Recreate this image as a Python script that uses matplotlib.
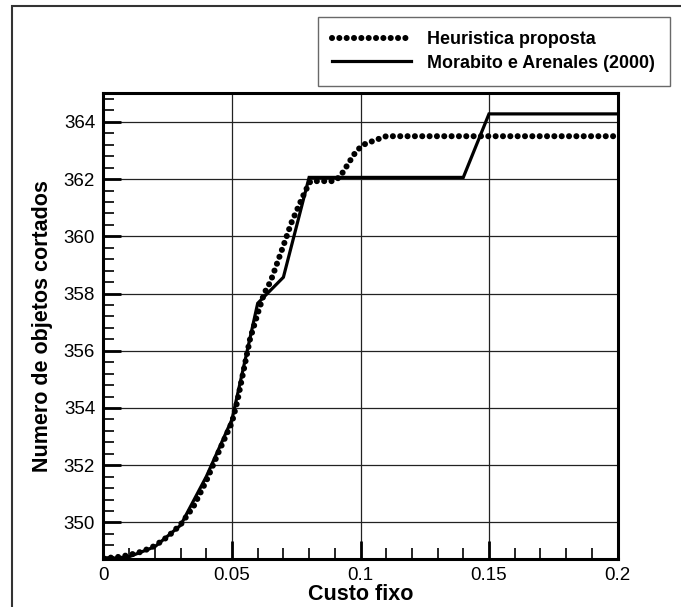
import matplotlib
matplotlib.use("Agg")
import matplotlib.pyplot as plt
from matplotlib.ticker import MultipleLocator
from matplotlib.patches import Rectangle

plt.rcParams['font.family'] = ['Liberation Sans', 'DejaVu Sans']

# Heuristica proposta (dotted curve)
heur_x = [0.0, 0.005, 0.01, 0.015, 0.02, 0.025, 0.03, 0.035, 0.04, 0.045, 0.05,
          0.052, 0.0545, 0.057, 0.06, 0.0625, 0.065, 0.068, 0.0705, 0.073, 0.0758,
          0.0784, 0.0805, 0.0815, 0.0895, 0.092, 0.0944, 0.0962, 0.098, 0.100,
          0.102, 0.1045, 0.1075, 0.110, 0.2]
heur_y = [348.75, 348.78, 348.86, 348.98, 349.18, 349.5, 349.92, 350.55, 351.45, 352.5, 353.5,
          354.2, 355.3, 356.4, 357.3, 358.0, 358.42, 359.17, 359.8, 360.45, 361.03,
          361.56, 361.92, 361.93, 361.93, 362.08, 362.42, 362.68, 362.93, 363.12,
          363.24, 363.32, 363.42, 363.5, 363.5]

# Morabito e Arenales (2000) (solid line)
mor_x = [0.0, 0.01, 0.02, 0.03, 0.04, 0.05, 0.06, 0.07, 0.08, 0.14, 0.15, 0.2]
mor_y = [348.72, 348.8, 349.15, 349.9, 351.6, 353.6, 357.66, 358.57, 362.06, 362.06, 364.28, 364.28]

xticks = [0, 0.05, 0.1, 0.15, 0.2]
xticklabels = ['0', '0.05', '0.1', '0.15', '0.2']
yticks = [350, 352, 354, 356, 358, 360, 362, 364]

W, H = 681, 607
fig = plt.figure(figsize=(W / 100, H / 100), dpi=100)
ax = fig.add_axes([103.5 / W, 1 - 559 / H, (617.5 - 103.5) / W, (559 - 93.3) / H])

ax.plot(heur_x, heur_y, color='black', linewidth=4.4,
        linestyle=(0, (0.001, 1.2)), dash_capstyle='round',
        label='Heuristica proposta', zorder=3)
ax.plot(mor_x, mor_y, color='black', linewidth=2.3, solid_joinstyle='miter',
        label='Morabito e Arenales (2000)', zorder=4)

ax.set_xlim(0, 0.2)
ax.set_ylim(348.72, 365.0)
ax.set_xticks(xticks)
ax.set_xticklabels(xticklabels)
ax.set_yticks(yticks)
ax.xaxis.set_minor_locator(MultipleLocator(0.01))
ax.yaxis.set_minor_locator(MultipleLocator(0.4))
ax.tick_params(which='major', direction='in', length=13, width=2, labelsize=13.5,
               top=False, right=False, pad=6, colors='black')
ax.tick_params(which='minor', direction='in', length=8, width=1.2,
               top=False, right=False)
ax.grid(True, which='major', color='#222222', linewidth=0.9)
ax.set_axisbelow(True)
for s in ax.spines.values():
    s.set_linewidth(2.2)
    s.set_color('black')

ax.set_xlabel('Custo fixo', fontsize=15.5, fontweight='bold', labelpad=0)
ax.set_ylabel('Numero de objetos cortados', fontsize=15.5, fontweight='bold', labelpad=8)

# outer frame
fig.patches.append(Rectangle((12 / W, -0.05), 1.2, 1 - 6 / H + 0.05, transform=fig.transFigure,
                             fill=False, edgecolor='#333333', linewidth=1.5))

leg = fig.legend(loc='upper left', bbox_to_anchor=(318 / W, 1 - 17 / H),
                 borderaxespad=0.0,
                 frameon=True, fancybox=False, edgecolor='#444444',
                 prop={'weight': 'bold', 'size': 12.9}, handlelength=4.4,
                 handletextpad=0.9, borderpad=0.8, labelspacing=0.35)
leg.get_frame().set_linewidth(1.0)

fig.savefig('out.png', dpi=100)
